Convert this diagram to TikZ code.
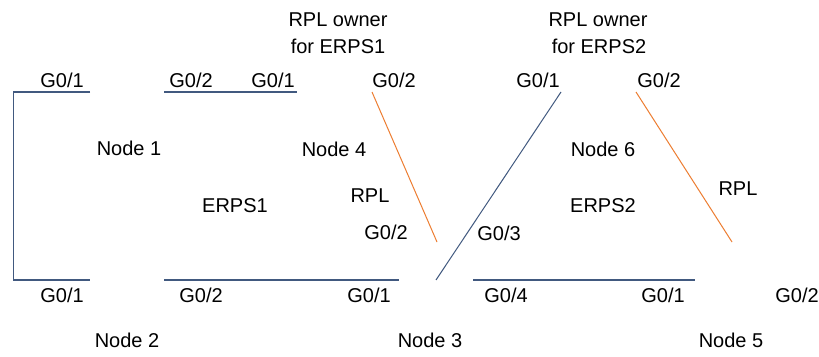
\documentclass[tikz,border=0pt]{standalone}
\usepackage{fontspec}
\setmainfont{Liberation Sans}
\definecolor{linkblue}{HTML}{41597F}
\definecolor{rplorange}{HTML}{ED7D31}
\begin{document}
\begin{tikzpicture}[x=1pt,y=-1pt,
  lbl/.style={anchor=base,inner sep=0pt,font=\fontsize{20}{24}\selectfont},
  trunk/.style={draw=linkblue,line width=2pt},
  thin/.style={draw=linkblue,line width=1pt},
  rpl/.style={draw=rplorange,line width=1pt}]
\useasboundingbox[fill=white] (0,0) rectangle (819,356);

% link end points
\coordinate (n1a) at (13,92);   \coordinate (n1b) at (90,92);
\coordinate (n2a) at (13,280);  \coordinate (n2b) at (90,280);
\coordinate (n1c) at (164,92);  \coordinate (n4a) at (297,92);
\coordinate (n2c) at (164,280); \coordinate (n3a) at (399,280);
\coordinate (n4b) at (372,92);  \coordinate (n3b) at (437,242);
\coordinate (n3c) at (436,280); \coordinate (n6a) at (561,92);
\coordinate (n3d) at (473,280); \coordinate (n5a) at (695,280);
\coordinate (n6b) at (636,92);  \coordinate (n5b) at (732,242);

% links
\draw[trunk] (n1b) -- (n1a);
\draw[thin] (n1a) -- (n2a);
\draw[trunk] (n2a) -- (n2b);
\draw[trunk] (n1c) -- (n4a);
\draw[trunk] (n2c) -- (n3a);
\draw[rpl] (n4b) -- (n3b);
\draw[thin] (n3c) -- (n6a);
\draw[trunk] (n3d) -- (n5a);
\draw[rpl] (n6b) -- (n5b);

% RPL owners
\node[lbl] (own1a) at (338,27) {RPL owner};
\node[lbl] (own1b) at (338,53) {for ERPS1};
\node[lbl] (own2a) at (598,27) {RPL owner};
\node[lbl] (own2b) at (599,53) {for ERPS2};

% upper ports
\node[lbl] (p1) at (62,87) {G0/1};
\node[lbl] (p2) at (191,87) {G0/2};
\node[lbl] (p3) at (273,87) {G0/1};
\node[lbl] (p4) at (394,87) {G0/2};
\node[lbl] (p5) at (538,87) {G0/1};
\node[lbl] (p6) at (659,87) {G0/2};

% device and ring names
\node[lbl] (node1) at (129,155) {Node 1};
\node[lbl] (node4) at (334,156) {Node 4};
\node[lbl] (node6) at (603,156) {Node 6};
\node[lbl] (rpl1) at (370,202) {RPL};
\node[lbl] (erps1) at (235,212) {ERPS1};
\node[lbl] (erps2) at (603,212) {ERPS2};
\node[lbl] (rpl2) at (738,195) {RPL};
\node[lbl] (p7) at (386,239) {G0/2};
\node[lbl] (p8) at (499,240) {G0/3};

% lower ports
\node[lbl] (q1) at (62,302) {G0/1};
\node[lbl] (q2) at (201,302) {G0/2};
\node[lbl] (q3) at (369,302) {G0/1};
\node[lbl] (q4) at (506,302) {G0/4};
\node[lbl] (q5) at (663,302) {G0/1};
\node[lbl] (q6) at (797,302) {G0/2};

\node[lbl] (node2) at (127,347) {Node 2};
\node[lbl] (node3) at (430,347) {Node 3};
\node[lbl] (node5) at (731,347) {Node 5};
\end{tikzpicture}
\end{document}
